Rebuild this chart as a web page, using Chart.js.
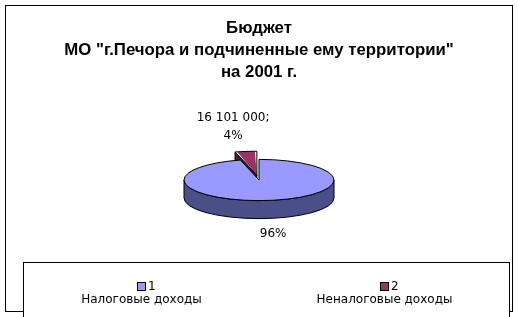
<!DOCTYPE html>
<html>
<head>
<meta charset="utf-8">
<script src="https://cdn.jsdelivr.net/npm/chart.js@4.4.1/dist/chart.umd.min.js"></script>
<style>
  html, body { margin: 0; padding: 0; background: #ffffff; }
</style>
</head>
<body>
<canvas id="chart-budget" width="518" height="317"></canvas>
<script>
// ДАННЫЕ
const titleLines = ['Бюджет', 'МО "г.Печора и подчиненные ему территории"', 'на 2001 г.'];
const categoryNumbers = ['1', '2'];
const categoryNames = ['Налоговые доходы', 'Неналоговые доходы'];
const budgetValues = [386400000, 16101000];
const showValue = [false, true];

// ЦВЕТА
const topColors = ['#9999FF', '#993366'];
const sideColors = ['#4B4F88', '#4F1B36'];

// ПАРАМЕТРЫ "3D"
const DEPTH = 18;
const SQUASH = 0.275;
const CENTER_Y = 180;
const LABEL_FONT = '12px "DejaVu Sans"';

// ФОРМАТ ЧИСЛА: 16 101 000
function formatNumber(v) {
  return String(v).replace(/\B(?=(\d{3})+(?!\d))/g, ' ');
}

// ГЕОМЕТРИЯ СЕКТОРА НА ЭКРАНЕ (из элемента Chart.js)
function sliceGeom(arc, libCy) {
  const t = (arc.options.offset || 0) / 4;
  const mid = (arc.startAngle + arc.endAngle) / 2;
  const circ = arc.endAngle - arc.startAngle;
  const fix = 1 - Math.sin(Math.min(Math.PI, circ));
  return {
    x: arc.x + Math.cos(mid) * t,
    y: CENTER_Y + (arc.y - libCy + Math.sin(mid) * t) * SQUASH,
    r: arc.outerRadius + t * fix,
    a0: arc.startAngle,
    a1: arc.endAngle,
    mid: mid
  };
}

function rimPoint(g, a, dz) {
  return [g.x + g.r * Math.cos(a), g.y + g.r * SQUASH * Math.sin(a) + dz];
}

function drawCutFace(ctx, g, a) {
  const p = rimPoint(g, a, 0);
  ctx.beginPath();
  ctx.moveTo(g.x, g.y);
  ctx.lineTo(p[0], p[1]);
  ctx.lineTo(p[0], p[1] + DEPTH);
  ctx.lineTo(g.x, g.y + DEPTH);
  ctx.closePath();
  ctx.fill();
  ctx.stroke();
}

function drawOuterWall(ctx, g) {
  for (let k = -1; k <= 1; k++) {
    const s = Math.max(g.a0, 2 * Math.PI * k);
    const e = Math.min(g.a1, 2 * Math.PI * k + Math.PI);
    if (e <= s) continue;
    ctx.beginPath();
    ctx.ellipse(g.x, g.y, g.r, g.r * SQUASH, 0, s, e, false);
    ctx.ellipse(g.x, g.y + DEPTH, g.r, g.r * SQUASH, 0, e, s, true);
    ctx.closePath();
    ctx.fill();
    ctx.stroke();
  }
}

// ПЛАГИН: БОКОВЫЕ СТЕНКИ + СЖАТИЕ ПО ВЕРТИКАЛИ
const pie3d = {
  id: 'pie3d',
  beforeDatasetsDraw(chart) {
    const ctx = chart.ctx;
    const arcs = chart.getDatasetMeta(0).data;
    const libCy = arcs[0].y;
    const geoms = arcs.map(a => sliceGeom(a, libCy));

    ctx.save();
    ctx.strokeStyle = '#000000';
    ctx.lineWidth = 1;
    geoms.forEach((g, i) => {
      ctx.fillStyle = sideColors[i];
      if (Math.cos(g.a0) < -0.01) drawCutFace(ctx, g, g.a0);
      if (Math.cos(g.a1) > 0.01) drawCutFace(ctx, g, g.a1);
    });
    geoms.forEach((g, i) => {
      ctx.fillStyle = sideColors[i];
      drawOuterWall(ctx, g);
    });
    ctx.restore();

    ctx.save();
    ctx.translate(0, CENTER_Y);
    ctx.scale(1, SQUASH);
    ctx.translate(0, -libCy);
  },
  afterDatasetsDraw(chart) {
    const ctx = chart.ctx;
    ctx.restore();

    const arcs = chart.getDatasetMeta(0).data;
    const libCy = arcs[0].y;
    const geoms = arcs.map(a => sliceGeom(a, libCy));
    const total = budgetValues.reduce((s, v) => s + v, 0);

    ctx.save();
    ctx.strokeStyle = '#000000';
    ctx.lineWidth = 1;
    geoms.forEach(g => {
      ctx.beginPath();
      ctx.moveTo(g.x, g.y);
      ctx.ellipse(g.x, g.y, g.r, g.r * SQUASH, 0, g.a0, g.a1, false);
      ctx.closePath();
      ctx.stroke();
    });

    // ПОДПИСИ ДАННЫХ
    ctx.font = LABEL_FONT;
    ctx.fillStyle = '#000000';
    ctx.textAlign = 'center';
    ctx.textBaseline = 'middle';
    const lineH = 18;
    geoms.forEach((g, i) => {
      const pct = Math.round(budgetValues[i] / total * 100) + '%';
      const lines = showValue[i] ? [formatNumber(budgetValues[i]) + ';', pct] : [pct];
      const w = Math.max(...lines.map(l => ctx.measureText(l).width));
      const h = (lines.length - 1) * lineH + 14;
      const p = rimPoint(g, g.mid, Math.sin(g.mid) > 0 ? DEPTH : 0);
      const cx = p[0] + Math.cos(g.mid) * 1.4 * w;
      const cy = p[1] + Math.sin(g.mid) * (h / 2 + 9);
      lines.forEach((l, j) => {
        ctx.fillText(l, cx, cy - (lines.length - 1) * lineH / 2 + j * lineH);
      });
    });
    ctx.restore();
  }
};

// ПЛАГИН: РАМКА, ЗАГОЛОВОК, ЛЕГЕНДА
const decorations = {
  id: 'decorations',
  afterDraw(chart) {
    const ctx = chart.ctx;
    ctx.save();
    ctx.strokeStyle = '#000000';
    ctx.lineWidth = 1;
    ctx.strokeRect(5.5, 5.5, 507, 306);

    // ЗАГОЛОВОК
    ctx.fillStyle = '#000000';
    ctx.font = 'bold 16.8px "Liberation Sans"';
    ctx.textAlign = 'center';
    ctx.textBaseline = 'middle';
    titleLines.forEach((t, i) => ctx.fillText(t, 259, 28 + i * 22));

    // ЛЕГЕНДА
    const box = { x: 23, y: 262, w: 486, h: 70 };
    ctx.fillStyle = '#ffffff';
    ctx.fillRect(box.x, box.y, box.w, box.h);
    ctx.strokeRect(box.x + 0.5, box.y + 0.5, box.w, box.h);

    ctx.font = LABEL_FONT;
    categoryNames.forEach((name, i) => {
      const colCenter = box.x + box.w * (0.25 + 0.5 * i) - 3;
      const mx = Math.round(colCenter) - 5;
      ctx.fillStyle = topColors[i];
      ctx.fillRect(mx, 282, 9, 9);
      ctx.strokeRect(mx + 0.5, 282.5, 8, 8);
      ctx.fillStyle = '#000000';
      ctx.textAlign = 'left';
      ctx.fillText(categoryNumbers[i], mx + 11, 287);
      ctx.textAlign = 'center';
      ctx.fillText(name, colCenter, 300);
    });
    ctx.restore();
  }
};

const chartBudget = new Chart(document.getElementById('chart-budget'), {
  type: 'pie',
  data: {
    labels: categoryNames,
    datasets: [{
      data: budgetValues,
      backgroundColor: topColors,
      borderWidth: 0,
      offset: [0, 68],
      radius: 75,
      clip: false
    }]
  },
  options: {
    responsive: false,
    animation: false,
    events: [],
    radius: 75,
    layout: { padding: 0 },
    plugins: {
      legend: { display: false },
      title: { display: false },
      tooltip: { enabled: false }
    }
  },
  plugins: [pie3d, decorations]
});
</script>
</body>
</html>
